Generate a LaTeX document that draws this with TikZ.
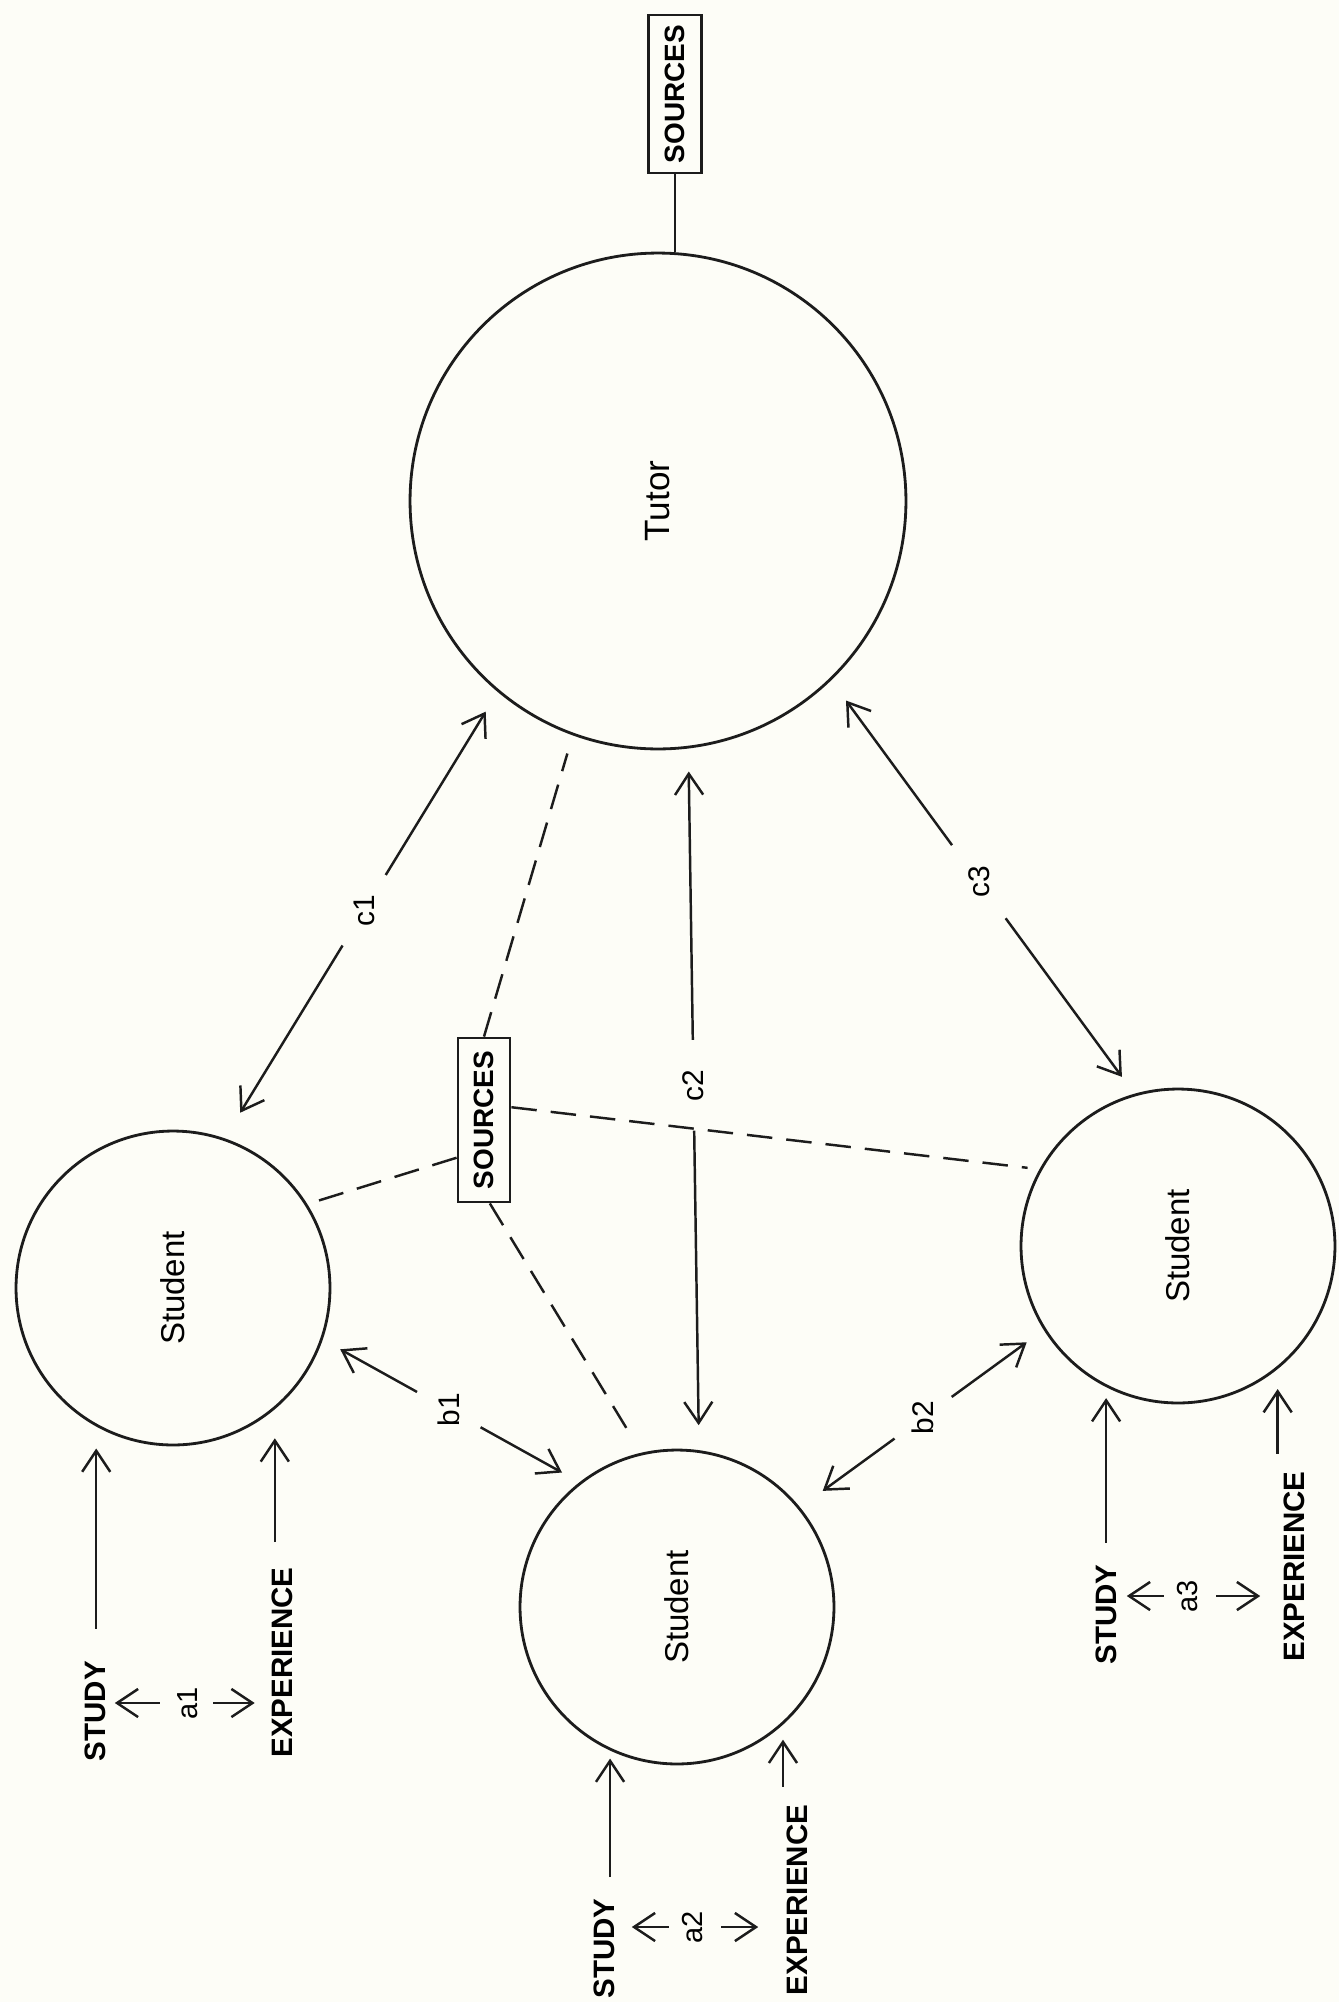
\documentclass[tikz,border=0pt]{standalone}
\usepackage{fontspec}
\setmainfont{Liberation Sans}
\usepackage{graphicx}
\usetikzlibrary{arrows.meta,calc}
\definecolor{paper}{RGB}{253,253,247}
\definecolor{ink}{RGB}{28,28,28}
\begin{document}
\begin{tikzpicture}[x=0.02cm, y=-0.02cm,
  bubble/.style={circle, draw=ink, line width=1.6pt, inner sep=0pt},
  srcbox/.style={draw=ink, line width=1.6pt, inner sep=0pt, font=\fontsize{15.9}{18}\selectfont\bfseries},
  tag/.style={circle, inner sep=0pt, font=\fontsize{17}{20}\selectfont},
  smalltag/.style={inner sep=0pt, font=\fontsize{16.5}{20}\selectfont},
  capword/.style={inner sep=0pt, font=\fontsize{16.8}{20}\selectfont\bfseries},
  arr/.style={draw=ink, line width=1.4pt, -{Straight Barb[length=12pt,width=16pt]}},
  dashln/.style={draw=ink, line width=1.4pt, dash pattern=on 14.5pt off 8pt},
  plainln/.style={draw=ink, line width=1.5pt}
]
\fill[paper] (0,0) rectangle (1339,2002);
\useasboundingbox (0,0) rectangle (1339,2002);

% main nodes
\node[bubble, minimum size=9.92cm, font=\fontsize{20}{24}\selectfont] (tutor) at (658,501) {\rotatebox{90}{Tutor}};
\node[bubble, minimum size=6.28cm, font=\fontsize{18.8}{22}\selectfont] (s1) at (173,1288) {\rotatebox{90}{Student}};
\node[bubble, minimum size=6.28cm, font=\fontsize{18.8}{22}\selectfont] (s2) at (677,1607) {\rotatebox{90}{Student}};
\node[bubble, minimum size=6.28cm, font=\fontsize{18.8}{22}\selectfont] (s3) at (1178,1246) {\rotatebox{90}{Student}};

\node[srcbox, minimum width=1.06cm, minimum height=3.16cm] (src1) at (675,94) {\rotatebox{90}{SOURCES}};
\node[srcbox, minimum width=1.04cm, minimum height=3.28cm] (src2) at (484,1120) {\rotatebox{90}{SOURCES}};

% connector labels
\node[tag, minimum size=1.64cm] (c1) at ($(s1.71)!0.511!(tutor.230)$) {\rotatebox{90}{c1}};
\node[tag, minimum size=1.8cm] (c2) at ($(s2.82)!0.52!(tutor.277)$) {\rotatebox{90}{c2}};
\node[tag, minimum size=1.8cm] (c3) at ($(s3.106)!0.513!(tutor.314)$) {\rotatebox{90}{c3}};
\node[tag, minimum size=1.44cm] (b1) at ($(s1.341)!0.491!(s2.128)$) {\rotatebox{90}{b1}};
\node[tag, minimum size=1.4cm] (b2) at ($(s2.39)!0.505!(s3.212)$) {\rotatebox{90}{b2}};

% tutor - student arrows
\draw[arr, shorten >=0.46cm] (c1) -- (tutor.230);
\draw[arr, shorten >=0.6cm] (c1) -- (s1.71);
\draw[arr, shorten >=0.46cm] (c2) -- (tutor.277);
\draw[arr, shorten >=0.5cm] (c2) -- (s2.82);
\draw[arr, shorten >=0.5cm] (c3) -- (tutor.314);
\draw[arr, shorten >=0.42cm] (c3) -- (s3.106);
% student - student arrows
\draw[arr, shorten >=0.4cm] (b1) -- (s1.341);
\draw[arr, shorten >=0.4cm] (b1) -- (s2.128);
\draw[arr, shorten >=0.56cm] (b2) -- (s2.39);
\draw[arr, shorten >=0.42cm] (b2) -- (s3.212);

% sources
\draw[plainln] (src1.south) -- (src1.south |- tutor.north);
\draw[dashln, shorten >=0.38cm] (src2.north) -- (tutor.250);
\draw[dashln, shorten >=0.24cm] (src2.25) -- (s3.151);
\draw[dashln, shorten >=0.24cm] (src2.234) -- (s1.32);
\draw[dashln, shorten >=0.36cm] (src2.274) -- (s2.103);

% group 1
\node[capword] (st1) at (95,1711) {\rotatebox{90}{STUDY}};
\node[capword] (ex1) at (282.5,1662.5) {\rotatebox{90}{EXPERIENCE}};
\node[smalltag] (a1) at (188,1703) {\rotatebox{90}{a1}};
\draw[arr, shorten <=0.64cm, shorten >=0.44cm] (st1.north -| s1.241) -- (s1.241);
\draw[arr, shorten <=0.5cm, shorten >=0.58cm] (ex1.north -| s1.310) -- (s1.310);
\draw[arr, shorten <=0.36cm, shorten >=0.18cm] (a1.west) -- (a1.west -| st1.east);
\draw[arr, shorten <=0.3cm, shorten >=0.34cm] (a1.east) -- (a1.east -| ex1.west);

% group 2
\node[capword] (st2) at (604,1948.5) {\rotatebox{90}{STUDY}};
\node[capword] (ex2) at (797.5,1900) {\rotatebox{90}{EXPERIENCE}};
\node[smalltag] (a2) at (693,1927) {\rotatebox{90}{a2}};
\draw[arr, shorten <=0.42cm, shorten >=0.16cm] (st2.north -| s2.245) -- (s2.245);
\draw[arr, shorten <=0.36cm, shorten >=0.3cm] (ex2.north -| s2.312) -- (s2.312);
\draw[arr, shorten <=0.27cm, shorten >=0.34cm] (a2.west) -- (a2.west -| st2.east);
\draw[arr, shorten <=0.35cm, shorten >=0.57cm] (a2.east) -- (a2.east -| ex2.west);

% group 3
\node[capword] (st3) at (1106,1614.5) {\rotatebox{90}{STUDY}};
\node[capword] (ex3) at (1294,1566.5) {\rotatebox{90}{EXPERIENCE}};
\node[smalltag] (a3) at (1188,1596) {\rotatebox{90}{a3}};
\draw[arr, shorten <=0.43cm, shorten >=0.22cm] (st3.north -| s3.243) -- (s3.243);
\draw[arr, shorten <=0.35cm, shorten >=0.4cm] (ex3.north -| s3.309) -- (s3.309);
\draw[arr, shorten <=0.27cm, shorten >=0.2cm] (a3.west) -- (a3.west -| st3.east);
\draw[arr, shorten <=0.35cm, shorten >=0.46cm] (a3.east) -- (a3.east -| ex3.west);
\end{tikzpicture}
\end{document}
